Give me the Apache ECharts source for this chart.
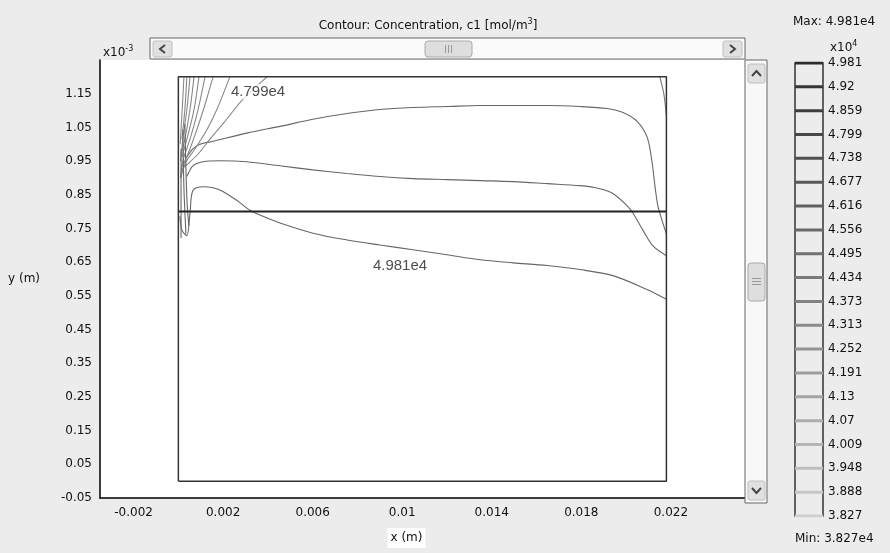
<!DOCTYPE html>
<html>
<head>
<meta charset="utf-8">
<script src="https://cdn.jsdelivr.net/npm/echarts@6/dist/echarts.min.js"></script>
<style>
  html, body { margin: 0; padding: 0; background: #ececec; }
  #chart { width: 890px; height: 553px; }
</style>
</head>
<body>
<div id="chart"></div>
<script>
// x in mm, y in units of 1e-3 m
const xTicks = [-2, 2, 6, 10, 14, 18, 22];
const yTicks = [-0.05, 0.05, 0.15, 0.25, 0.35, 0.45, 0.55, 0.65, 0.75, 0.85, 0.95, 1.05, 1.15];
const levels = ['4.981', '4.92', '4.859', '4.799', '4.738', '4.677', '4.616', '4.556', '4.495', '4.434',
                '4.373', '4.313', '4.252', '4.191', '4.13', '4.07', '4.009', '3.948', '3.888', '3.827'];

const domain = [[0, 0], [21.8, 0], [21.8, 1.2], [0, 1.2], [0, 0]];
const interfaceLine = [[0, 0.8], [21.8, 0.8]];

const curveA = [[0.38, 0.962], [0.65, 0.986], [0.96, 1.0], [1.55, 1.009], [3.06, 1.033], [4.54, 1.053],
  [6.01, 1.074], [7.53, 1.091], [9.0, 1.103], [10.48, 1.109], [12.0, 1.112], [13.48, 1.115],
  [14.95, 1.115], [16.47, 1.115], [17.94, 1.112], [19.14, 1.106], [19.86, 1.094], [20.49, 1.068],
  [20.94, 1.021], [21.15, 0.951], [21.29, 0.875], [21.42, 0.816], [21.6, 0.775], [21.8, 0.734]];
const curveB = [[0.38, 0.904], [0.65, 0.936], [1.1, 0.948], [1.86, 0.951], [3.06, 0.948], [4.54, 0.936],
  [6.01, 0.924], [7.53, 0.913], [9.0, 0.904], [10.48, 0.898], [12.0, 0.895], [13.48, 0.892],
  [14.95, 0.889], [16.47, 0.883], [17.94, 0.877], [18.83, 0.868], [19.41, 0.854], [20.04, 0.818],
  [20.31, 0.795], [20.75, 0.745], [21.2, 0.698], [21.8, 0.669]];
const curveC = [[0.07, 0.786], [0.16, 0.745], [0.38, 0.728], [0.52, 0.795], [0.65, 0.863], [1.1, 0.874],
  [1.55, 0.871], [1.99, 0.86], [2.62, 0.833], [3.2, 0.804], [3.78, 0.786], [4.54, 0.766],
  [6.01, 0.736], [7.53, 0.716], [9.0, 0.701], [10.48, 0.687], [12.0, 0.672], [13.48, 0.657],
  [14.95, 0.648], [16.47, 0.64], [17.94, 0.628], [19.41, 0.61], [20.93, 0.569], [21.8, 0.54]];
const cornerCurve = [[21.51, 1.2], [21.69, 1.147], [21.8, 1.083]];

const fanLines = [
  [[3.96, 1.2], [2.88, 1.133], [2.08, 1.068], [1.41, 1.015], [0.88, 0.971], [0.43, 0.942], [0.16, 0.927]],
  [[2.3, 1.2], [1.72, 1.103], [1.28, 1.044], [0.74, 0.986], [0.29, 0.942], [0.12, 0.9]],
  [[1.55, 1.2], [1.19, 1.118], [0.83, 1.044], [0.43, 0.971], [0.16, 0.933]],
  [[1.19, 1.2], [0.88, 1.103], [0.52, 1.015], [0.2, 0.951], [0.1, 0.9]],
  [[0.92, 1.2], [0.7, 1.103], [0.38, 1.015], [0.16, 0.962]],
  [[0.7, 1.2], [0.52, 1.103], [0.29, 1.015], [0.12, 0.971]],
  [[0.52, 1.2], [0.38, 1.103], [0.2, 1.015], [0.1, 0.95]],
  [[0.38, 1.2], [0.29, 1.103], [0.16, 1.015]],
  [[0.25, 1.2], [0.16, 1.089], [0.08, 1.0]]
];
const wallLines = [
  [[0.2, 1.044], [0.25, 0.868], [0.34, 0.733]],
  [[0.29, 1.059], [0.38, 0.839], [0.47, 0.757]],
  [[0.12, 0.986], [0.12, 0.722]]
];
const contourLabels = [
  { name: '4.799e4', value: [3.56, 1.156] },
  { name: '4.981e4', value: [9.9, 0.638] }
];

const font = 'DejaVu Sans';

function near(list, v) {
  return list.some(t => Math.abs(t - v) < 1e-6);
}

function contour(data, color) {
  return {
    type: 'line', data: data, symbol: 'none', smooth: 0.3, silent: true,
    lineStyle: { color: color, width: 1.1 }, z: 3
  };
}

const chart = echarts.init(document.getElementById('chart'));

const series = [
  {
    type: 'line', data: domain, symbol: 'none', silent: true,
    lineStyle: { color: '#333', width: 1.5 }, z: 4
  },
  {
    type: 'line', data: interfaceLine, symbol: 'none', silent: true,
    lineStyle: { color: '#222', width: 2 }, z: 4
  },
  contour(curveA, '#666'),
  contour(curveB, '#666'),
  contour(curveC, '#666'),
  contour(cornerCurve, '#777')
];
fanLines.forEach(d => series.push(contour(d, '#888')));
wallLines.forEach(d => series.push(contour(d, '#666')));
series.push({
  type: 'scatter', data: contourLabels, symbolSize: 0, silent: true, z: 10,
  label: {
    show: true, position: 'inside', formatter: '{b}',
    fontFamily: 'Liberation Sans', fontSize: 15, color: '#222',
    backgroundColor: '#fff', padding: [0, 1]
  }
});
// colour bar levels
levels.forEach((l, i) => {
  const g = Math.round(45 + i * 8.5);
  series.push({
    type: 'line', xAxisIndex: 1, yAxisIndex: 1, data: [[0, l], [1, l]],
    symbol: 'none', silent: true,
    lineStyle: { color: 'rgb(' + g + ',' + g + ',' + g + ')', width: 3 }
  });
});

chart.setOption({
  animation: false,
  backgroundColor: '#ececec',
  title: {
    text: '{a|Contour: Concentration, c1 [mol/m}{s|3}{a|]}',
    left: 423, top: 13, textAlign: 'center',
    textStyle: {
      fontWeight: 'normal',
      rich: {
        a: { fontFamily: font, fontSize: 12, fontWeight: 'normal', color: '#111' },
        s: { fontFamily: font, fontSize: 8, fontWeight: 'normal', color: '#111', verticalAlign: 'top', padding: [0, 0, 7, 0] }
      }
    }
  },
  grid: [
    { left: 100, top: 60, width: 647, height: 443, show: true, backgroundColor: '#fff', borderWidth: 0 },
    { left: 795, top: 63, width: 28, height: 453, show: true, backgroundColor: 'transparent',
      borderColor: '#333', borderWidth: 1.5 }
  ],
  xAxis: [
    {
      type: 'value', min: -3.5, max: 25.4, interval: 0.5,
      name: '{a|x (m)}{b|}', nameLocation: 'middle', nameGap: 30,
      nameTextStyle: {
        rich: {
          a: { fontFamily: font, fontSize: 12, color: '#111', backgroundColor: '#fff', padding: [4, 3, 4, 3] },
          b: { width: 34 }
        }
      },
      axisLine: { onZero: false, lineStyle: { color: '#000', width: 1.5 } },
      axisTick: { show: false },
      splitLine: { show: false },
      axisLabel: {
        margin: 9, fontFamily: font, fontSize: 12, color: '#111',
        formatter: v => near(xTicks, v) ? String(+(v / 1000).toFixed(3)) : ''
      }
    },
    { type: 'value', gridIndex: 1, min: 0, max: 1, show: false }
  ],
  yAxis: [
    {
      type: 'value', min: -0.05, max: 1.25, interval: 0.05,
      name: 'y (m)', nameLocation: 'middle', nameRotate: 0, nameGap: 60,
      nameTextStyle: { fontFamily: font, fontSize: 12, color: '#111' },
      axisLine: { show: true, onZero: false, lineStyle: { color: '#000', width: 1.5 } },
      axisTick: { show: false },
      splitLine: { show: false },
      axisLabel: {
        margin: 8, fontFamily: font, fontSize: 12, color: '#111',
        formatter: v => near(yTicks, v) ? v.toFixed(2) : ''
      }
    },
    {
      type: 'category', gridIndex: 1, data: levels.slice().reverse(), boundaryGap: false,
      position: 'right',
      axisLine: { show: false }, axisTick: { show: false }, splitLine: { show: false },
      axisLabel: { interval: 0, margin: 5, fontFamily: font, fontSize: 12, color: '#111', padding: [4, 0, 0, 0] }
    }
  ],
  graphic: [
    { type: 'text', left: 103, top: 45, style: {
        text: '{a|x10}{s|-3}', rich: {
          a: { fontFamily: font, fontSize: 12, fill: '#111' },
          s: { fontFamily: font, fontSize: 8, fill: '#111', verticalAlign: 'top', padding: [0, 0, 7, 0] } } } },
    { type: 'text', left: 830, top: 40, style: {
        text: '{a|x10}{s|4}', rich: {
          a: { fontFamily: font, fontSize: 12, fill: '#111' },
          s: { fontFamily: font, fontSize: 8, fill: '#111', verticalAlign: 'top', padding: [0, 0, 7, 0] } } } },
    { type: 'text', left: 793, top: 16, style: { text: 'Max: 4.981e4', font: '12px ' + font, fill: '#111' } },
    { type: 'text', left: 795, top: 533, style: { text: 'Min: 3.827e4', font: '12px ' + font, fill: '#111' } },

    // horizontal scroll bar
    { type: 'rect', shape: { x: 150, y: 38, width: 595, height: 21 }, style: { fill: '#fbfbfb', stroke: '#666', lineWidth: 1 }, z: 20 },
    { type: 'rect', shape: { x: 153, y: 41, width: 19, height: 16, r: 2 }, style: { fill: '#e0e0e0', stroke: '#c0c0c0' }, z: 21 },
    { type: 'polyline', shape: { points: [[165, 45], [160, 49], [165, 53]] }, style: { stroke: '#444', lineWidth: 2, fill: null }, z: 22 },
    { type: 'rect', shape: { x: 723, y: 41, width: 19, height: 16, r: 2 }, style: { fill: '#e0e0e0', stroke: '#c0c0c0' }, z: 21 },
    { type: 'polyline', shape: { points: [[730, 45], [735, 49], [730, 53]] }, style: { stroke: '#444', lineWidth: 2, fill: null }, z: 22 },
    { type: 'rect', shape: { x: 425, y: 41, width: 47, height: 16, r: 3 }, style: { fill: '#dedede', stroke: '#aaa' }, z: 21 },
    { type: 'line', shape: { x1: 445.5, y1: 45, x2: 445.5, y2: 53 }, style: { stroke: '#999' }, z: 22 },
    { type: 'line', shape: { x1: 448.5, y1: 45, x2: 448.5, y2: 53 }, style: { stroke: '#999' }, z: 22 },
    { type: 'line', shape: { x1: 451.5, y1: 45, x2: 451.5, y2: 53 }, style: { stroke: '#999' }, z: 22 },

    // vertical scroll bar
    { type: 'rect', shape: { x: 745, y: 60, width: 22, height: 443 }, style: { fill: '#f8f8f8', stroke: '#666', lineWidth: 1 }, z: 20 },
    { type: 'rect', shape: { x: 748, y: 64, width: 17, height: 19, r: 2 }, style: { fill: '#e0e0e0', stroke: '#c0c0c0' }, z: 21 },
    { type: 'polyline', shape: { points: [[752, 76], [756.5, 71], [761, 76]] }, style: { stroke: '#444', lineWidth: 2, fill: null }, z: 22 },
    { type: 'rect', shape: { x: 748, y: 481, width: 17, height: 19, r: 2 }, style: { fill: '#e0e0e0', stroke: '#c0c0c0' }, z: 21 },
    { type: 'polyline', shape: { points: [[752, 488], [756.5, 493], [761, 488]] }, style: { stroke: '#444', lineWidth: 2, fill: null }, z: 22 },
    { type: 'rect', shape: { x: 748, y: 263, width: 17, height: 38, r: 3 }, style: { fill: '#dedede', stroke: '#aaa' }, z: 21 },
    { type: 'line', shape: { x1: 752, y1: 278.5, x2: 761, y2: 278.5 }, style: { stroke: '#999' }, z: 22 },
    { type: 'line', shape: { x1: 752, y1: 281.5, x2: 761, y2: 281.5 }, style: { stroke: '#999' }, z: 22 },
    { type: 'line', shape: { x1: 752, y1: 284.5, x2: 761, y2: 284.5 }, style: { stroke: '#999' }, z: 22 }
  ],
  series: series
});
</script>
</body>
</html>
